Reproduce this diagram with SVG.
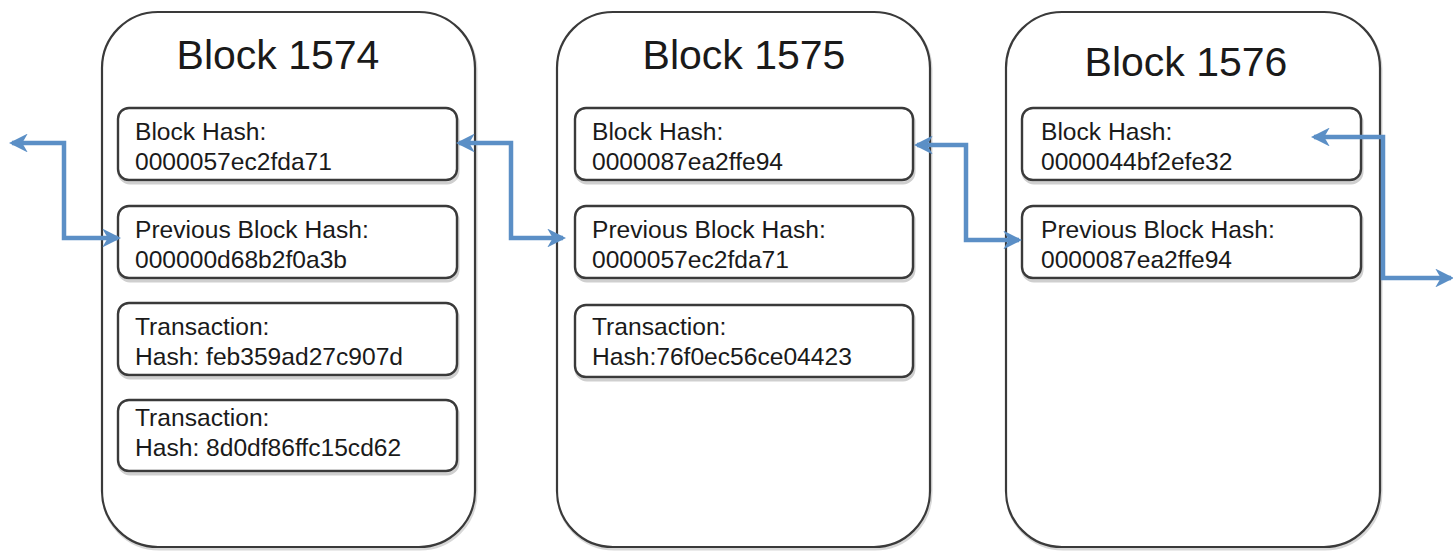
<svg xmlns="http://www.w3.org/2000/svg" width="1453" height="554" viewBox="0 0 1453 554">
<style>
.outer{fill:#fff;stroke:#3a3a3a;stroke-width:2.2}
.oshadow{fill:none;stroke:#d8d8d8;stroke-width:3}
.inner{fill:#fff;stroke:#3a3a3a;stroke-width:2.4}
.ishadow{fill:none;stroke:#cfcfcf;stroke-width:3}
.title{font-family:"Liberation Sans",Arial,sans-serif;font-size:41px;fill:#1a1a1a}
.t{font-family:"Liberation Sans",Arial,sans-serif;font-size:24.6px;fill:#1a1a1a}
.conn{fill:none;stroke:#5b8fc6;stroke-width:4.5;stroke-linejoin:miter}
</style>
<defs>
<marker id="ah" viewBox="0 0 12 12" refX="10" refY="6" markerWidth="4.2" markerHeight="4.2" orient="auto-start-reverse" markerUnits="strokeWidth">
<path d="M0,0 L12,6 L0,12 L3.5,6 Z" fill="#5b8fc6"/>
</marker>
</defs>
<rect width="1453" height="554" fill="#fff"/>

<g id="block1574">
<rect class="oshadow" x="103" y="14" width="373" height="535" rx="56"/>
<rect class="outer" x="102" y="12" width="373" height="535" rx="56"/>
<text class="title" x="278" y="69" text-anchor="middle">Block 1574</text>
<g id="b1574-hash"><rect class="ishadow" x="119" y="111" width="339" height="72" rx="11"/><rect class="inner" x="118" y="108" width="339" height="72" rx="11"/>
<text class="t" x="135" y="140">Block Hash:</text><text class="t" x="135" y="170">0000057ec2fda71</text></g>
<g id="b1574-prev"><rect class="ishadow" x="119" y="209" width="339" height="72" rx="11"/><rect class="inner" x="118" y="206" width="339" height="72" rx="11"/>
<text class="t" x="135" y="238">Previous Block Hash:</text><text class="t" x="135" y="268">000000d68b2f0a3b</text></g>
<g id="b1574-tx1"><rect class="ishadow" x="119" y="306" width="339" height="72" rx="11"/><rect class="inner" x="118" y="303" width="339" height="72" rx="11"/>
<text class="t" x="135" y="335">Transaction:</text><text class="t" x="135" y="365">Hash: feb359ad27c907d</text></g>
<g id="b1574-tx2"><rect class="ishadow" x="119" y="403" width="339" height="71" rx="11"/><rect class="inner" x="118" y="400" width="339" height="71" rx="11"/>
<text class="t" x="135" y="426">Transaction:</text><text class="t" x="135" y="456">Hash: 8d0df86ffc15cd62</text></g>
</g>

<g id="block1575">
<rect class="oshadow" x="558" y="14" width="373" height="535" rx="56"/>
<rect class="outer" x="557" y="12" width="373" height="535" rx="56"/>
<text class="title" x="744" y="69" text-anchor="middle">Block 1575</text>
<g id="b1575-hash"><rect class="ishadow" x="576" y="111" width="338" height="72" rx="11"/><rect class="inner" x="575" y="108" width="338" height="72" rx="11"/>
<text class="t" x="592" y="140">Block Hash:</text><text class="t" x="592" y="170">0000087ea2ffe94</text></g>
<g id="b1575-prev"><rect class="ishadow" x="576" y="209" width="338" height="72" rx="11"/><rect class="inner" x="575" y="206" width="338" height="72" rx="11"/>
<text class="t" x="592" y="238">Previous Block Hash:</text><text class="t" x="592" y="268">0000057ec2fda71</text></g>
<g id="b1575-tx1"><rect class="ishadow" x="576" y="308" width="338" height="72" rx="11"/><rect class="inner" x="575" y="305" width="338" height="72" rx="11"/>
<text class="t" x="592" y="335">Transaction:</text><text class="t" x="592" y="365">Hash:76f0ec56ce04423</text></g>
</g>

<g id="block1576">
<rect class="oshadow" x="1007" y="14" width="374" height="535" rx="56"/>
<rect class="outer" x="1006" y="12" width="374" height="535" rx="56"/>
<text class="title" x="1186" y="76" text-anchor="middle">Block 1576</text>
<g id="b1576-hash"><rect class="ishadow" x="1023" y="111" width="339" height="72" rx="11"/><rect class="inner" x="1022" y="108" width="339" height="72" rx="11"/>
<text class="t" x="1041" y="140">Block Hash:</text><text class="t" x="1041" y="170">0000044bf2efe32</text></g>
<g id="b1576-prev"><rect class="ishadow" x="1023" y="209" width="339" height="72" rx="11"/><rect class="inner" x="1022" y="206" width="339" height="72" rx="11"/>
<text class="t" x="1041" y="238">Previous Block Hash:</text><text class="t" x="1041" y="268">0000087ea2ffe94</text></g>
</g>

<g id="connectors">
<path class="conn" d="M118,238 L64,238 L64,143 L12,143" marker-start="url(#ah)" marker-end="url(#ah)"/>
<path class="conn" d="M459,143 L511,143 L511,238 L563,238" marker-start="url(#ah)" marker-end="url(#ah)"/>
<path class="conn" d="M917,145 L966,145 L966,240 L1019,240" marker-start="url(#ah)" marker-end="url(#ah)"/>
<path class="conn" d="M1314,137 L1383,137 L1383,278 L1451,278" marker-start="url(#ah)" marker-end="url(#ah)"/>
</g>
</svg>
